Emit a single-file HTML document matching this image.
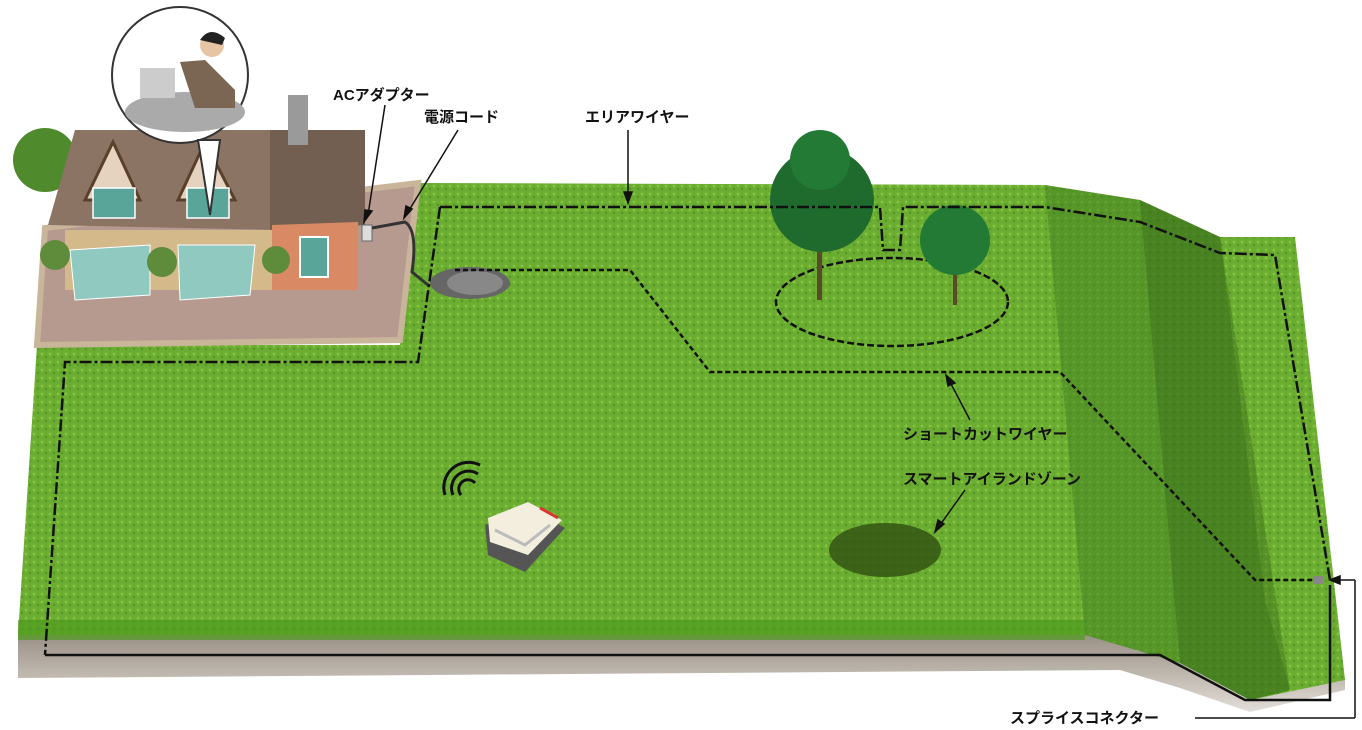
<!DOCTYPE html>
<html><head><meta charset="utf-8"><style>
html,body{margin:0;padding:0;background:#fff;width:1362px;height:730px;overflow:hidden}
text{font-family:"Liberation Sans","Noto Sans CJK JP",sans-serif;font-weight:bold;font-size:15px;fill:#111}
</style></head><body>
<svg width="1362" height="730" viewBox="0 0 1362 730" xmlns="http://www.w3.org/2000/svg">
<defs>
<pattern id="g" width="8" height="8" patternUnits="userSpaceOnUse">
<rect width="8" height="8" fill="#6aad30"/><circle cx="2" cy="2" r="1.4" fill="#86c43f"/><circle cx="6" cy="5" r="1.2" fill="#55952a"/>
</pattern>
<linearGradient id="soil" x1="0" y1="0" x2="0" y2="1"><stop offset="0" stop-color="#958b80"/><stop offset="1" stop-color="#e2ddd7"/></linearGradient>
</defs>
<polygon points="18,630 1085,630 1180,662 1250,695 1345,678 1345,690 1250,712 1180,688 1120,670 18,678" fill="url(#soil)"/>
<polygon points="37,345 400,345 418,183 1045,185 1140,200 1220,237 1295,237 1345,680 1250,700 1180,663 1085,635 18,635" fill="url(#g)"/>
<polygon points="1045,185 1140,200 1220,237 1265,600 1290,690 1250,700 1180,663 1085,635" fill="#3f7a1e" opacity="0.45"/>
<polygon points="1140,200 1220,237 1290,690 1250,700 1180,663" fill="#2f5f14" opacity="0.35"/>
<polygon points="18,620 1085,620 1085,640 18,640" fill="#4e9a1e" opacity="0.7"/>
<polygon points="45,228 418,183 400,340 37,345" fill="#b79a8f"/>
<polygon points="45,228 418,183 400,340 37,345" fill="none" stroke="#c8b59a" stroke-width="6"/>
<circle cx="45" cy="160" r="32" fill="#4f8a2c"/>
<polygon points="48,225 75,130 280,130 280,230" fill="#8b7464"/>
<polygon points="270,130 365,130 365,225 270,230" fill="#725f51"/>
<polygon points="65,230 275,230 275,290 65,290" fill="#d4b98a"/>
<polygon points="272,225 358,222 358,290 272,290" fill="#d98a64"/>
<rect x="300" y="237" width="28" height="40" fill="#5aa59a" stroke="#fff" stroke-width="2"/>
<polygon points="85,200 113,142 140,200" fill="#e5d3c0" stroke="#5a3f2a" stroke-width="3"/>
<polygon points="178,200 205,142 235,200" fill="#e5d3c0" stroke="#5a3f2a" stroke-width="3"/>
<rect x="93" y="188" width="42" height="30" fill="#5aa59a" stroke="#fff" stroke-width="1.5"/>
<rect x="187" y="188" width="42" height="30" fill="#5aa59a" stroke="#fff" stroke-width="1.5"/>
<rect x="288" y="95" width="20" height="50" fill="#9a9a9a"/>
<polygon points="70,250 150,245 150,295 75,300" fill="#8fc9c0" stroke="#fff"/>
<polygon points="178,245 255,245 250,295 180,300" fill="#8fc9c0" stroke="#fff"/>
<circle cx="55" cy="255" r="15" fill="#5f8c3a"/><circle cx="162" cy="262" r="15" fill="#5f8c3a"/><circle cx="276" cy="260" r="14" fill="#5f8c3a"/>
<rect x="362" y="225" width="10" height="16" fill="#ddd" stroke="#666"/>
<path d="M372,228 L405,222 Q418,230 412,272 L428,285" stroke="#333" stroke-width="3" fill="none"/>
<circle cx="180" cy="75" r="68" fill="#fff" stroke="#333" stroke-width="2"/>
<ellipse cx="185" cy="112" rx="60" ry="20" fill="#aaa"/>
<rect x="140" y="68" width="35" height="30" fill="#ccc"/>
<path d="M180,62 L205,60 L235,90 L235,108 L195,108 Z" fill="#7a6652"/>
<circle cx="212" cy="45" r="12" fill="#e6c4a4"/><path d="M200,40 Q210,25 225,38 L222,45 Z" fill="#222"/>
<path d="M198,140 L210,215 L220,140 Z" fill="#fff" stroke="#333" stroke-width="2"/>
<ellipse cx="470" cy="283" rx="40" ry="16" fill="#666"/>
<ellipse cx="475" cy="283" rx="28" ry="12" fill="#888"/>
<ellipse cx="892" cy="302" rx="116" ry="44" fill="none" stroke="#111" stroke-width="2.5" stroke-dasharray="7,3"/>
<rect x="817" y="230" width="5" height="70" fill="#5a4a2a"/>
<circle cx="822" cy="200" r="52" fill="#1f6b2d"/><circle cx="820" cy="160" r="30" fill="#237a35"/>
<rect x="953" y="260" width="4" height="45" fill="#5a4a2a"/>
<circle cx="955" cy="240" r="35" fill="#237a35"/>
<ellipse cx="885" cy="550" rx="56" ry="27" fill="#2f4f12" opacity="0.8"/>
<path d="M440,207 L880,207 L883,250 L900,250 L903,207 L1045,207 L1140,222 L1220,253 L1275,255 L1330,580" stroke="#111" stroke-width="2.5" fill="none" stroke-dasharray="12,3,3,3"/>
<path d="M440,207 L418,362 L65,362 L45,655" stroke="#111" stroke-width="2.5" fill="none" stroke-dasharray="12,3,3,3"/>
<path d="M45,655 L1160,655 L1245,700 L1330,700 L1330,585" stroke="#111" stroke-width="2.5" fill="none"/>
<path d="M455,270 L630,270 L710,372 L1060,372 L1255,580 L1320,580" stroke="#111" stroke-width="2.5" fill="none" stroke-dasharray="5,3"/>
<rect x="1313" y="576" width="10" height="8" fill="#888"/>
<path d="M445,495 a25,25 0 0 1 35,-30 M453,495 a17,17 0 0 1 25,-21 M461,495 a9,9 0 0 1 14,-12" stroke="#111" stroke-width="3" fill="none"/>
<polygon points="485,525 530,508 565,528 525,572 488,555" fill="#555"/>
<polygon points="488,518 528,502 562,520 528,555 490,542" fill="#f3eedd"/>
<path d="M540,508 L558,518" stroke="#d33" stroke-width="3"/>
<path d="M495,530 L525,545 L550,525" stroke="#bbb" stroke-width="3" fill="none"/>
<g stroke="#111" stroke-width="1.5" fill="#111">
<line x1="385" y1="105" x2="368" y2="215"/><polygon points="364,222 365,210 372,211"/>
<line x1="458" y1="130" x2="408" y2="212"/><polygon points="404,218 406,206 412,209"/>
<line x1="628" y1="130" x2="628" y2="195"/><polygon points="628,203 624,192 632,192"/>
<line x1="970" y1="420" x2="950" y2="382"/><polygon points="946,375 955,383 948,386"/>
<line x1="965" y1="490" x2="940" y2="525"/><polygon points="935,532 938,520 944,524"/>
<line x1="1195" y1="718" x2="1355" y2="718"/><line x1="1355" y1="718" x2="1355" y2="580"/><line x1="1355" y1="580" x2="1335" y2="580"/><polygon points="1330,580 1340,576 1340,584"/>
</g>
<text x="333" y="100">ACアダプター</text>
<text x="424" y="122">電源コード</text>
<text x="585" y="122">エリアワイヤー</text>
<text x="903" y="439">ショートカットワイヤー</text>
<text x="903" y="484">スマートアイランドゾーン</text>
<text x="1010" y="723">スプライスコネクター</text>
</svg>
</body></html>
